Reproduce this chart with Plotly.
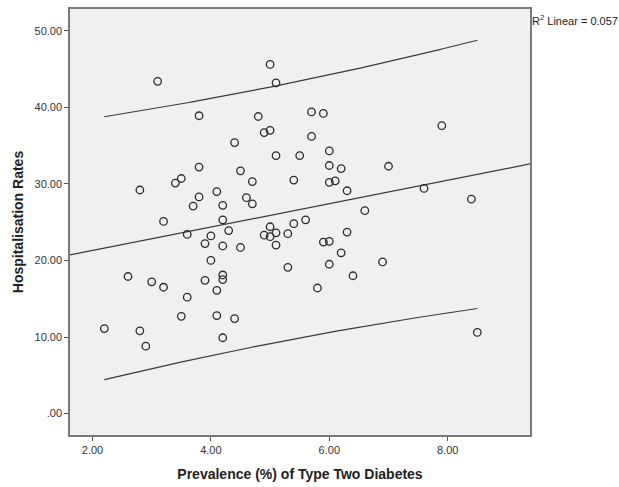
import numpy as np
import plotly.graph_objects as go

# Prevalence (%) of type two diabetes per area
prevalence = [
    3.1, 5.0, 5.1, 3.8, 4.8, 4.9, 5.0, 4.4, 5.1, 5.5,
    3.8, 4.5, 3.4, 3.5, 4.7, 5.4, 2.8, 4.1, 3.8, 4.6,
    3.7, 4.2, 4.7, 3.2, 4.2, 5.6, 4.3, 5.4, 5.0, 3.6,
    4.0, 4.9, 5.0, 5.1, 5.3, 3.9, 4.2, 4.5, 5.1, 4.0,
    2.6, 3.0, 3.2, 3.9, 4.2, 4.2, 4.1, 5.3, 3.6, 3.5,
    4.1, 4.4, 2.2, 2.8, 2.9, 4.2, 5.7, 5.9, 7.9, 5.7,
    6.0, 6.0, 6.2, 7.0, 6.0, 6.1, 6.3, 7.6, 8.4, 6.6,
    6.3, 5.9, 6.0, 6.2, 6.0, 6.9, 6.4, 5.8, 8.5,
]

# Hospitalisation rates per area
hospitalisation = [
    43.4, 45.6, 43.2, 38.9, 38.8, 36.7, 37.0, 35.4, 33.7, 33.7,
    32.2, 31.7, 30.1, 30.7, 30.3, 30.5, 29.2, 29.0, 28.3, 28.2,
    27.1, 27.2, 27.4, 25.1, 25.3, 25.3, 23.9, 24.8, 24.4, 23.4,
    23.2, 23.3, 23.1, 23.6, 23.5, 22.2, 21.9, 21.7, 22.0, 20.0,
    17.9, 17.2, 16.5, 17.4, 18.1, 17.5, 16.1, 19.1, 15.2, 12.7,
    12.8, 12.4, 11.1, 10.8, 8.8, 9.9, 39.4, 39.2, 37.6, 36.2,
    34.3, 32.4, 32.0, 32.3, 30.2, 30.4, 29.1, 29.4, 28.0, 26.5,
    23.7, 22.4, 22.5, 21.0, 19.5, 19.8, 18.0, 16.4, 10.6,
]

x_ticks = [2, 4, 6, 8]
x_tick_labels = ["2.00", "4.00", "6.00", "8.00"]
y_ticks = [0, 10, 20, 30, 40, 50]
y_tick_labels = [".00", "10.00", "20.00", "30.00", "40.00", "50.00"]

x_range = [1.62, 9.39]
y_range = [-2.8, 52.84]

# Least-squares fit with 95% individual prediction interval
x = np.array(prevalence)
y = np.array(hospitalisation)
n = len(x)
slope, intercept = np.polyfit(x, y, 1)
resid = y - (intercept + slope * x)
s = np.sqrt(np.sum(resid ** 2) / (n - 2))
sxx = np.sum((x - x.mean()) ** 2)
t_crit = 1.991  # two-sided 95%, df = n - 2

fit_x = np.array(x_range)
fit_y = intercept + slope * fit_x

band_x = np.linspace(x.min(), x.max(), 120)
band_c = intercept + slope * band_x
half = t_crit * s * np.sqrt(1 + 1 / n + (band_x - x.mean()) ** 2 / sxx)

line_col = "#3a3a3a"
fig = go.Figure()
fig.add_trace(go.Scatter(x=fit_x, y=fit_y, mode="lines",
                         line=dict(color=line_col, width=1.2), hoverinfo="skip"))
fig.add_trace(go.Scatter(x=band_x, y=band_c + half, mode="lines",
                         line=dict(color=line_col, width=1.2), hoverinfo="skip"))
fig.add_trace(go.Scatter(x=band_x, y=band_c - half, mode="lines",
                         line=dict(color=line_col, width=1.2), hoverinfo="skip"))
fig.add_trace(go.Scatter(
    x=prevalence, y=hospitalisation, mode="markers",
    marker=dict(symbol="circle-open", size=7.5, color="#2b2b2b",
                line=dict(width=1.3, color="#2b2b2b")),
))

axis_common = dict(
    showgrid=False, zeroline=False, showline=True, mirror=True,
    linecolor="#7a7a7a", linewidth=1.5,
    ticks="outside", ticklen=4, tickwidth=1, tickcolor="#555555",
    tickfont=dict(family="Liberation Sans, Arial, sans-serif", size=11, color="#333333"),
)

fig.update_layout(
    width=619, height=487,
    margin=dict(l=70, r=89, t=7, b=48),
    paper_bgcolor="white",
    plot_bgcolor="#f0f0f1",
    showlegend=False,
    xaxis=dict(range=x_range, tickvals=x_ticks, ticktext=x_tick_labels,
               title=dict(text="<b>Prevalence (%) of Type Two Diabetes</b>", standoff=14,
                          font=dict(family="Liberation Sans, Arial, sans-serif", size=14, color="#222222")),
               **axis_common),
    yaxis=dict(range=y_range, tickvals=y_ticks, ticktext=y_tick_labels,
               title=dict(text="<b>Hospitalisation Rates</b>", standoff=8,
                          font=dict(family="Liberation Sans, Arial, sans-serif", size=14, color="#222222")),
               **axis_common),
    annotations=[dict(
        x=1.0, y=1.0, xref="paper", yref="paper", xanchor="left", yanchor="top",
        xshift=0, yshift=-2, showarrow=False,
        text="R<sup>2</sup> Linear = 0.057",
        font=dict(family="Liberation Sans, Arial, sans-serif", size=11, color="#222222"),
    )],
)

fig.write_html("out.html")
